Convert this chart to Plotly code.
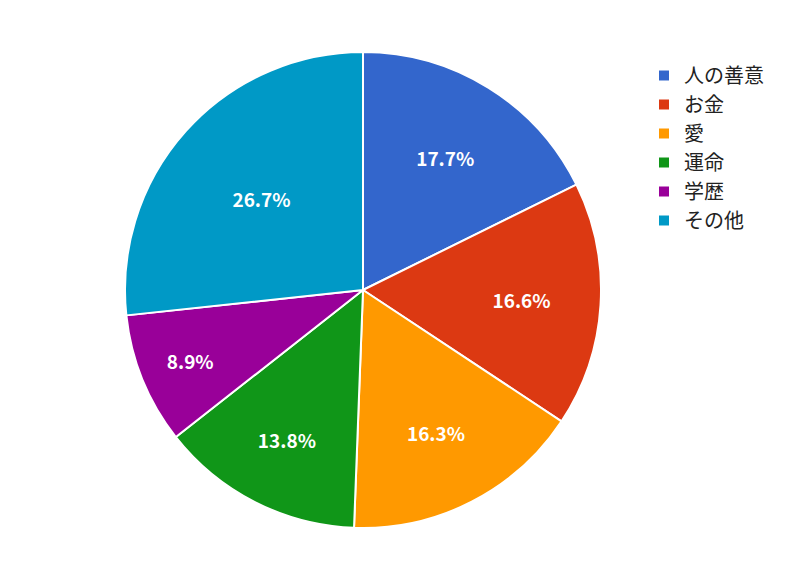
import plotly.graph_objects as go

labels = ["人の善意", "お金", "愛", "運命", "学歴", "その他"]
values = [17.7, 16.6, 16.3, 13.8, 8.9, 26.7]
colors = ["#3366cc", "#dc3912", "#ff9900", "#109618", "#990099", "#0099c6"]

fig = go.Figure(go.Pie(
    labels=labels, values=values, sort=False, direction="clockwise", rotation=0,
    marker=dict(colors=colors, line=dict(color="white", width=2)),
    texttemplate="<b>%{percent:.1%}</b>", textposition="inside", insidetextorientation="horizontal",
    textfont=dict(color="white", size=19, family="Noto Sans CJK JP"),
    domain=dict(x=[117/800, 593/800], y=[45/565, 521/565]),
))
fig.update_layout(
    width=800, height=565, margin=dict(l=0, r=0, t=0, b=0),
    paper_bgcolor="white", font=dict(family="Noto Sans CJK JP", color="#222"),
    legend=dict(x=0.795, y=0.915, xanchor="left", yanchor="top",
                font=dict(size=20, color="#222"), itemwidth=30, tracegroupgap=0),
)
fig.write_html("out.html")
